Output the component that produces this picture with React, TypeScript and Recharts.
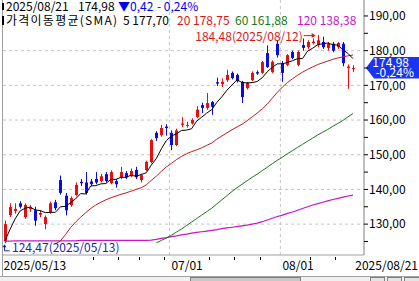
import React from 'react';
import { ComposedChart, Bar, Line, XAxis, YAxis, CartesianGrid, ReferenceLine, ReferenceDot } from 'recharts';

const opens = [125.0,132.6,133.8,136.0,132.0,134.3,134.0,132.7,130.0,133.5,136.3,142.7,138.2,135.5,138.4,142.2,142.0,142.3,143.0,142.4,144.4,141.8,142.4,143.5,144.7,143.8,145.6,142.7,145.6,147.9,156.3,155.7,158.1,156.3,152.8,158.6,158.3,159.0,160.9,164.3,163.5,165.2,170.9,170.4,171.5,173.6,173.0,171.0,169.2,171.5,173.8,173.6,179.3,173.8,182.0,176.4,175.9,179.6,175.9,181.6,181.0,182.2,181.6,182.5,180.8,182.0,181.0,182.0,175.0,174.8];
const highs = [131.0,136.0,136.0,136.6,136.0,135.5,135.0,134.0,132.5,136.5,137.0,144.0,139.0,138.0,142.0,143.0,145.0,143.0,145.0,144.5,145.0,145.5,143.0,146.5,145.3,146.0,146.5,144.5,148.3,154.5,156.8,158.6,158.8,157.0,157.5,160.8,159.5,160.5,164.0,165.0,167.8,165.5,172.2,172.0,174.5,174.0,173.4,171.3,171.0,174.0,174.3,177.0,181.5,177.2,183.0,177.0,179.0,180.0,180.0,183.5,183.0,183.5,184.48,184.0,182.5,182.5,182.5,182.5,176.0,175.8];
const lows = [124.47,132.0,133.0,134.5,131.5,133.5,129.5,132.0,128.5,133.0,134.0,138.5,132.5,135.0,138.0,141.0,138.5,141.0,141.5,142.0,142.0,141.5,140.5,143.0,143.0,143.5,143.0,142.0,145.3,147.5,154.0,155.2,155.5,151.3,152.5,158.0,157.8,158.7,160.5,162.0,163.0,161.5,169.8,169.5,171.0,171.7,170.8,164.9,168.8,171.2,173.0,173.3,175.0,173.5,178.0,171.0,175.5,177.5,175.5,180.0,180.5,181.8,181.0,180.5,180.0,179.5,180.5,175.5,169.0,173.8];
const closes = [130.0,134.9,134.4,135.0,135.5,134.8,131.0,133.2,132.0,136.0,134.6,139.0,134.0,137.5,141.3,141.8,139.0,141.5,142.0,143.8,142.4,145.0,141.5,145.0,143.5,145.3,143.5,144.1,147.9,154.2,154.8,157.7,157.7,152.8,157.0,159.0,158.6,160.0,163.0,163.5,164.9,163.8,170.5,171.0,173.0,172.1,171.2,166.6,170.7,173.6,173.4,176.7,175.3,176.8,178.7,173.6,178.7,177.9,179.6,180.8,182.5,182.6,183.0,181.0,182.0,180.0,182.2,176.4,175.4,174.98];
const ma5 = [125.2,128.5,131.5,133.8,134.6,134.9,134.1,133.9,133.3,133.4,133.4,135.0,135.1,136.2,137.3,138.8,138.7,141.0,141.1,141.6,141.7,142.9,142.9,143.5,143.5,144.1,143.8,144.3,144.8,147.0,148.9,151.7,154.1,155.4,156.0,157.0,157.1,157.5,159.7,160.8,162.0,163.0,165.1,166.7,168.6,170.1,171.6,170.8,170.7,170.8,171.1,172.2,173.9,175.2,176.2,176.2,176.6,177.1,177.7,177.7,179.9,180.7,181.7,182.0,182.2,181.7,181.6,180.3,179.2,177.7];
const ma20 = [null,null,null,null,null,null,null,null,null,null,124.3,125.2,127.0,129.0,130.6,132.0,133.3,134.5,135.5,136.3,137.0,137.6,138.1,138.6,139.0,139.5,140.0,140.5,141.3,142.6,143.8,145.2,146.5,147.5,148.6,149.5,150.3,150.9,151.4,152.0,152.7,153.4,154.5,155.4,156.3,157.2,158.0,158.8,159.8,160.9,162.0,163.2,164.6,166.3,168.0,169.5,170.8,171.9,172.9,173.8,174.6,175.3,176.0,176.5,177.0,177.5,177.9,178.2,178.5,178.75];
const ma60 = [null,null,null,null,null,null,null,null,null,null,null,null,null,null,null,null,null,null,null,null,null,null,null,null,null,null,null,null,null,null,124.6,125.3,126.0,126.8,127.7,128.6,129.6,130.6,131.6,132.6,133.6,134.6,135.8,137.0,138.2,139.4,140.5,141.5,142.5,143.5,144.4,145.4,146.4,147.4,148.4,149.3,150.3,151.2,152.1,153.0,153.9,154.8,155.7,156.5,157.3,158.2,159.0,159.9,160.9,161.88];
const ma120 = [125.1,125.1,125.2,125.2,125.2,125.2,125.2,125.2,125.2,125.2,125.2,125.2,125.2,125.2,125.2,125.3,125.3,125.3,125.3,125.3,125.3,125.3,125.3,125.3,125.3,125.3,125.3,125.3,125.3,125.4,125.6,125.9,126.1,126.4,126.6,126.9,127.1,127.4,127.6,127.8,128.0,128.2,128.4,128.7,128.9,129.1,129.3,129.5,129.7,130.0,130.3,130.7,131.2,131.7,132.2,132.6,133.1,133.5,134.0,134.5,135.0,135.5,135.9,136.3,136.7,137.1,137.4,137.8,138.1,138.38];

const xLabelIdx = [0, 32.6, 54.6, 69];
const xLabels = ['2025/05/13', '07/01', '08/01', '2025/08/21'];
const xMinorTicks = [17.5, 22.5, 26.5, 31.5, 40.5, 45.5, 50.5, 60.5, 65.5];
const yTicks = [125, 130, 135, 140, 145, 150, 155, 160, 165, 170, 175, 180, 185, 190];
const gridY = [130, 140, 150, 160, 170, 180];
const gridX = [32.6, 54.6];
const peakDate = '2025/08/12';
const lowDate = '2025/05/13';
const lastDate = '2025/08/21';

const rows = closes.map((c, i) => ({
  i,
  open: opens[i],
  high: highs[i],
  low: lows[i],
  close: c,
  ma5: ma5[i],
  ma20: ma20[i],
  ma60: ma60[i],
  ma120: ma120[i],
}));

const RED = '#ec0c0c';
const BLUE = '#0a0ae8';
const FONT = "'Noto Sans CJK KR', 'Noto Sans', sans-serif";
const fmt = (v: number) => v.toFixed(2).replace('.', ',');

const last = closes[closes.length - 1];
const prev = closes[closes.length - 2];
const chg = last - prev;
const pct = (chg / prev) * 100;
const peakIdx = highs.indexOf(Math.max(...highs));
const lowIdx = lows.indexOf(Math.min(...lows));

function Candle(props: any) {
  const { x, y, width, height, payload } = props;
  if (!payload || height == null) return null;
  const { open, close, high, low } = payload;
  const up = close >= open;
  const color = up ? RED : BLUE;
  const ratio = height / (high - low);
  const top = y + (high - Math.max(open, close)) * ratio;
  const bot = y + (high - Math.min(open, close)) * ratio;
  const cx = Math.round(x + width / 2) + 0.5;
  return (
    <g>
      <line x1={cx} x2={cx} y1={y} y2={y + height} stroke={color} strokeWidth={1} />
      <rect x={cx - 1.5} y={top} width={3} height={Math.max(1, bot - top)} fill={color} />
    </g>
  );
}

function XTick(props: any) {
  const { x, y, payload } = props;
  const v = payload.value;
  const li = xLabelIdx.indexOf(v);
  if (li >= 0) {
    let anchor: 'start' | 'end' = 'start';
    let tx = x + 2;
    if (li === 0) tx = 3.5;
    if (li === xLabels.length - 1) { anchor = 'end'; tx = 418; }
    return (
      <text x={tx} y={y + 15} textAnchor={anchor} fontSize={12} fill="#000" fontFamily={FONT}>
        {xLabels[li]}
      </text>
    );
  }
  const px = Math.round(x) + 0.5;
  return <line x1={px} x2={px} y1={y + 2} y2={y + 5} stroke="#000" />;
}

const peakLabel = (p: any) => {
  const vb = p.viewBox || {};
  const cx = vb.x + (vb.width || 0) / 2;
  const cy = vb.y + (vb.height || 0) / 2;
  return (
    <g>
      <text x={cx - 15} y={cy + 5.5} textAnchor="end" fontSize={12} fill="#d81818" fontFamily={FONT}>
        {`${fmt(highs[peakIdx])}(${peakDate})`}
      </text>
      <line x1={cx - 14} x2={cx - 3} y1={cy + 0.5} y2={cy + 0.5} stroke="#d81818" />
      <path d={`M${cx - 2},${cy + 0.5} L${cx - 6},${cy - 2} L${cx - 6},${cy + 3} Z`} fill="#d81818" />
    </g>
  );
};

const lowLabel = (p: any) => {
  const vb = p.viewBox || {};
  const cx = vb.x + (vb.width || 0) / 2;
  const cy = vb.y + (vb.height || 0) / 2;
  const ax = cx - 0.5;
  return (
    <g>
      <path d={`M${ax},${cy + 2} L${ax},${cy + 7.5} L${ax + 5},${cy + 7.5}`} stroke="#1f1fa0" fill="none" />
      <path d={`M${ax},${cy + 1} L${ax - 2},${cy + 4} L${ax + 2},${cy + 4} Z`} fill="#1f1fa0" />
      <text x={cx + 7} y={cy + 9} fontSize={12} fill="#1f1fa0" fontFamily={FONT}>
        {`${fmt(lows[lowIdx])}(${lowDate})`}
      </text>
    </g>
  );
};

const priceBox = (p: any) => {
  const vb = p.viewBox || {};
  const right = vb.x + vb.width;
  const y = vb.y;
  const tip = right + 2;
  const bx = tip + 8;
  return (
    <g>
      <path d={`M${tip},${y} L${bx},${y - 11} L419,${y - 11} L419,${y + 10.5} L${bx},${y + 10.5} Z`} fill="#1a35f0" />
      <text x={409} y={y - 1.5} textAnchor="end" fontSize={12} fill="#fff" fontFamily={FONT}>{fmt(last)}</text>
      <text x={414} y={y + 9} textAnchor="end" fontSize={12} fill="#fff" fontFamily={FONT}>{`${chg < 0 ? '-' : ''}${Math.abs(pct).toFixed(2).replace('.', ',')}%`}</text>
    </g>
  );
};

export default function App() {
  const chgText = `${chg < 0 ? '▼' : '▲'}${Math.abs(chg).toFixed(2).replace('.', ',')}`;
  const pctText = `${chg < 0 ? '-' : ''} ${Math.abs(pct).toFixed(2).replace('.', ',')}%`;
  const n = closes.length - 1;
  return (
    <div style={{ position: 'absolute', left: 0, top: 0, width: 419, height: 281, background: '#fff', overflow: 'hidden' }}>
      <ComposedChart width={419} height={281} data={rows} margin={{ top: 0, right: 0, bottom: 0, left: 3 }}>
        <CartesianGrid stroke="#c4c4c4" strokeDasharray="3 3" horizontalValues={gridY} verticalValues={gridX} />
        <XAxis
          dataKey="i"
          type="number"
          domain={[-0.3966, 71.18]}
          allowDataOverflow
          ticks={[...xLabelIdx, ...xMinorTicks]}
          interval={0}
          tick={(p: any) => <XTick {...p} />}
          tickLine={false}
          tickSize={0}
          tickMargin={0}
          axisLine={{ stroke: '#a0a0a0' }}
          height={26}
        />
        <YAxis
          orientation="right"
          width={55}
          domain={[121.1, 194.6]}
          allowDataOverflow
          ticks={yTicks}
          interval={0}
          tickFormatter={(v: number) => (v % 10 === 0 && v >= 130 ? fmt(v) : '')}
          tick={{ fontSize: 12, fill: '#000', fontFamily: FONT }}
          tickLine={{ stroke: '#000' }}
          tickSize={4}
          tickMargin={1}
          axisLine={{ stroke: '#808080' }}
        />
        <Line dataKey="ma120" stroke="#c814c8" strokeWidth={1.2} dot={false} activeDot={false} isAnimationActive={false} />
        <Line dataKey="ma60" stroke="#167a16" strokeWidth={1} dot={false} activeDot={false} isAnimationActive={false} />
        <Line dataKey="ma20" stroke="#c01c1c" strokeWidth={1} dot={false} activeDot={false} isAnimationActive={false} />
        <Bar dataKey={(d: any) => [d.low, d.high]} barSize={3} shape={(p: any) => <Candle {...p} />} isAnimationActive={false} />
        <Line dataKey="ma5" stroke="#000" strokeWidth={1} dot={false} activeDot={false} isAnimationActive={false} />
        <ReferenceDot x={peakIdx} y={highs[peakIdx]} r={1} fill="none" stroke="none" label={peakLabel} />
        <ReferenceDot x={lowIdx} y={lows[lowIdx]} r={1} fill="none" stroke="none" label={lowLabel} />
        <ReferenceLine y={last} stroke="none" label={priceBox} />
      </ComposedChart>
      <svg width={419} height={281} style={{ position: 'absolute', left: 0, top: 0, pointerEvents: 'none' }}>
        <line x1={2.5} x2={2.5} y1={0} y2={276} stroke="#a0a0a0" />
        <rect x={2} y={3} width={2} height={7} fill="#000" />
        <rect x={2} y={16} width={2} height={9} fill="#000" />
        <g fontSize={12} fontFamily={FONT}>
          <text x={6} y={10.5} fill="#000">{lastDate}</text>
          <text x={78} y={10.5} fill="#000">{fmt(last)}</text>
          <text x={118} y={10.5} fill="#0000f0">{chgText}</text>
          <text x={157} y={10.5} fill="#0000f0">{pctText}</text>
          <text x={6} y={25} fill="#000" textLength={111} lengthAdjust="spacing">가격이동평균(SMA)</text>
          <text x={123} y={25} fill="#000">{`5 ${fmt(ma5[n])}`}</text>
          <text x={177} y={25} fill="#d81818">{`20 ${fmt(ma20[n] as number)}`}</text>
          <text x={235} y={25} fill="#167a16">{`60 ${fmt(ma60[n] as number)}`}</text>
          <text x={297} y={25} fill="#c814c8">{`120 ${fmt(ma120[n])}`}</text>
        </g>
        <rect x={0} y={276} width={419} height={5} fill="#f0f0f0" />
        <line x1={0} x2={419} y1={276.5} y2={276.5} stroke="#a0a0a0" />
        <rect x={190.5} y={277.5} width={110} height={5} fill="#c8c8c8" stroke="#808080" />
        <rect x={370.5} y={277.5} width={14} height={5} fill="#e4e4e4" stroke="#808080" />
        <rect x={387.5} y={277.5} width={14} height={5} fill="#e4e4e4" stroke="#808080" />
        <rect x={404.5} y={277.5} width={15} height={5} fill="#e4e4e4" stroke="#808080" />
      </svg>
    </div>
  );
}
